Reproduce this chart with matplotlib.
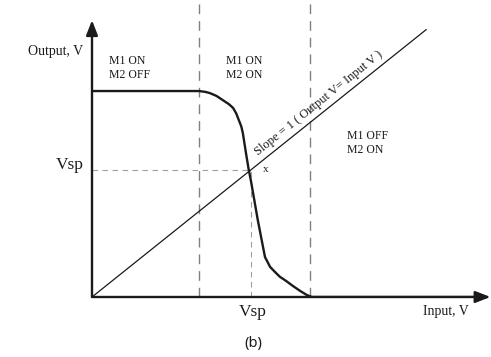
import numpy as np
import matplotlib.pyplot as plt

# transfer curve (input V, output V)
vin = [0.0, 2.08, 2.20, 2.29, 2.42, 2.54, 2.66, 2.74, 2.80, 2.85, 2.90, 2.93, 2.99, 3.04, 3.09, 3.22, 3.36,
       3.46, 3.56, 3.65, 3.77, 3.90, 4.04, 4.17, 4.27, 7.60]
vout = [5.0, 5.0, 4.98, 4.95, 4.88, 4.78, 4.68, 4.59, 4.46, 4.30, 4.14, 3.98, 3.50, 3.12, 2.80, 1.87, 0.97,
        0.73, 0.60, 0.49, 0.39, 0.27, 0.15, 0.05, 0.0, 0.0]

slope_x = [0.0, 6.49]
slope_y = [0.0, 6.49]

region_edges = [2.08, 4.23]
vsp = 3.08

serif = 'Liberation Serif'
ink = '#1a1a1a'

fig = plt.figure(figsize=(4.91, 3.57), dpi=100)
ax = fig.add_axes([92/491, 60/357, 399/491, 297/357])
ax.set_xlim(0, 7.75)
ax.set_ylim(0, 7.21)
ax.axis('off')

# region boundaries
for xe in region_edges:
    ax.plot([xe, xe], [0, 7.21], color='#808080', lw=1.0, dashes=(7, 5), clip_on=False)

# Vsp guides
ax.plot([vsp, vsp], [0, vsp], color='#a0a0a0', lw=0.8, dashes=(5, 4))
ax.plot([0, vsp], [vsp, vsp], color='#a0a0a0', lw=0.8, dashes=(5, 4))

# slope = 1 line
ax.plot(slope_x, slope_y, color=ink, lw=0.9)

# transfer curve
ax.plot(vin, vout, color=ink, lw=1.7, solid_capstyle='round', solid_joinstyle='round')

# axes with arrows
ax.annotate('', xy=(7.74, 0), xytext=(0, 0),
            arrowprops=dict(arrowstyle='-|>,head_length=0.9,head_width=0.35', color=ink, lw=1.7,
                            shrinkA=0, shrinkB=0), annotation_clip=False)
ax.annotate('', xy=(0, 6.72), xytext=(0, 0),
            arrowprops=dict(arrowstyle='-|>,head_length=0.9,head_width=0.35', color=ink, lw=1.7,
                            shrinkA=0, shrinkB=0), annotation_clip=False)

# labels
ax.text(-0.17, 5.95, 'Output, V', family=serif, fontsize=10, ha='right', va='center', color=ink, clip_on=False)
ax.text(6.87, -0.19, 'Input, V', family=serif, fontsize=10, ha='center', va='top', color=ink)
ax.text(-0.17, 3.2, 'Vsp', family=serif, fontsize=12.5, ha='right', va='center', color=ink, clip_on=False)
ax.text(3.13, -0.17, 'Vsp', family=serif, fontsize=12.5, ha='center', va='top', color=ink)
ax.text(0.33, 5.88, 'M1 ON\nM2 OFF', family=serif, fontsize=8.5, ha='left', va='top', color=ink, linespacing=1.2)
ax.text(2.60, 5.88, 'M1 ON\nM2 ON', family=serif, fontsize=8.5, ha='left', va='top', color=ink, linespacing=1.2)
ax.text(4.95, 4.06, 'M1 OFF\nM2 ON', family=serif, fontsize=8.5, ha='left', va='top', color=ink, linespacing=1.2)
ax.text(3.38, 3.1, 'x', family=serif, fontsize=8, ha='center', va='center', color=ink)
ax.text(4.48, 4.58, 'Slope = 1 ( Output V= Input V )', family=serif, fontsize=9,
        rotation=38.7, rotation_mode='anchor', ha='center', va='bottom', color=ink)

fig.text(253/491, 1 - 343/357, '(b)', family='Noto Sans', fontsize=10.5, ha='center', va='center', color=ink)

fig.savefig('out.png', dpi=100)
